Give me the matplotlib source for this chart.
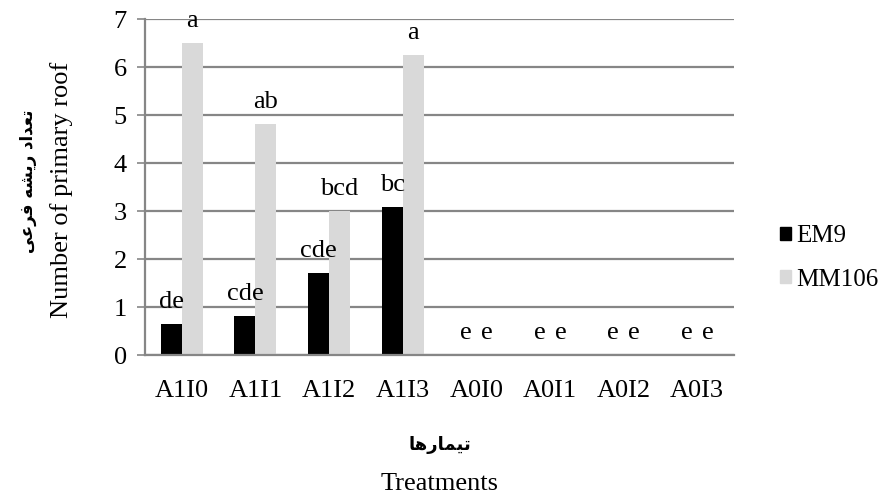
import numpy as np
import matplotlib
matplotlib.use("Agg")
import matplotlib.pyplot as plt
from matplotlib.patches import Patch

treatments = ["A1I0", "A1I1", "A1I2", "A1I3", "A0I0", "A0I1", "A0I2", "A0I3"]
em9 = [0.65, 0.82, 1.72, 3.09, 0, 0, 0, 0]
mm106 = [6.50, 4.82, 3.00, 6.26, 0, 0, 0, 0]
em9_letters = ["de", "cde", "cde", "bc", "e", "e", "e", "e"]
mm106_letters = ["a", "ab", "bcd", "a", "e", "e", "e", "e"]

# Persian labels, pre-shaped (presentation forms, visual order)
fa_ylabel = "\uFEF0\uFECB\uFEAE\uFED3 \uFEEA\uFEB8\uFEF3\uFEAD \uFEA9\uFE8D\uFEAA\uFECC\uFE97"
fa_xlabel = "\uFE8E\uFEEB\uFEAD\uFE8E\uFEE4\uFEF4\uFE97"

FS = 19
plt.rcParams["font.family"] = ["Liberation Serif", "DejaVu Sans"]
plt.rcParams["font.size"] = FS

W, H = 885, 501
fig = plt.figure(figsize=(W / 100, H / 100), dpi=100)
ax = fig.add_axes([145 / W, (H - 355.3) / H, 589 / W, 336 / H])

x = np.arange(len(treatments))
w = 0.2857
grid_c = "#868686"
ax.bar(x - w / 2, em9, w, color="black", zorder=3)
ax.bar(x + w / 2, mm106, w, color="#d9d9d9", zorder=3)

for xi, v, t in zip(x - w / 2, em9, em9_letters):
    ax.annotate(t, (xi, v), xytext=(0, 11.5), textcoords="offset points",
                ha="center", va="baseline", fontsize=FS, zorder=4)
for xi, v, t in zip(x + w / 2, mm106, mm106_letters):
    ax.annotate(t, (xi, v), xytext=(0, 11.5), textcoords="offset points",
                ha="center", va="baseline", fontsize=FS, zorder=4)

ax.set_xlim(-0.5, len(treatments) - 0.5)
ax.set_ylim(0, 7)
ax.set_yticks(range(8))
ax.set_xticks(x)
ax.set_xticklabels(treatments)
ax.yaxis.grid(True, color=grid_c, lw=1.6, zorder=0)
ax.set_axisbelow(True)
for s in ["top", "right"]:
    ax.spines[s].set_visible(False)
for s in ["left", "bottom"]:
    ax.spines[s].set_color(grid_c)
    ax.spines[s].set_linewidth(1.6)
    ax.spines[s].set_zorder(5)
ax.tick_params(axis="y", length=6, width=1.2, color=grid_c, pad=7)
ax.tick_params(axis="x", length=0, pad=18)

fig.text(28 / W, 1 - 181 / H, fa_ylabel, rotation=90, ha="center", va="center",
         fontsize=12, fontweight="bold", family="DejaVu Sans")
fig.text(62 / W, 1 - 190 / H, "Number of primary roof", rotation=90,
         ha="center", va="center", fontsize=FS)
fig.text(439.5 / W, 1 - 445 / H, fa_xlabel, ha="center", va="center",
         fontsize=13, fontweight="bold", family="DejaVu Sans")
fig.text(439.5 / W, 1 - 484 / H, "Treatments", ha="center", va="center", fontsize=FS)

handles = [Patch(color="black", label="EM9"), Patch(color="#d9d9d9", label="MM106")]
fig.legend(handles=handles, loc="center left", bbox_to_anchor=(770 / W, 1 - 258 / H),
           frameon=False, handlelength=0.45, handleheight=0.45, handletextpad=0.2,
           labelspacing=0.85, borderaxespad=0, fontsize=18)

fig.savefig("out.png", dpi=100)
